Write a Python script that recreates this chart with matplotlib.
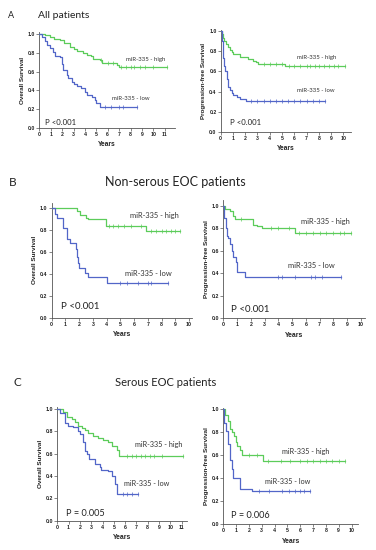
import matplotlib
matplotlib.use("Agg")
import matplotlib.pyplot as plt
import numpy as np

plt.rcParams['font.family'] = ['Liberation Sans', 'DejaVu Sans']

GREEN = '#5ccc5a'
BLUE = '#5266c8'

# ---------------- data ----------------
# Panel A – all patients, overall survival
A_os_high_t = [0, 0.5, 0.94, 1.3, 1.8, 2.2, 2.7, 3.0, 3.3, 3.8, 4.2, 4.5, 4.75, 5.3, 5.5, 6.8, 6.95]
A_os_high_s = [1, 0.99, 0.97, 0.95, 0.93, 0.90, 0.86, 0.84, 0.82, 0.80, 0.78, 0.76, 0.73, 0.72, 0.69, 0.67, 0.65]
A_os_high_end = 11.2
A_os_high_cens = [5.4, 6.0, 6.5, 7.2, 7.6, 8.0, 8.3, 8.8, 9.3, 10.0, 11.2]
A_os_low_t = [0, 0.2, 0.5, 0.65, 0.94, 1.2, 1.4, 1.8, 2.0, 2.1, 2.4, 2.55, 2.85, 3.0, 3.3, 3.7, 4.0, 4.2, 4.6, 4.9, 5.0, 5.3]
A_os_low_s = [1, 0.97, 0.92, 0.88, 0.85, 0.81, 0.76, 0.75, 0.68, 0.62, 0.56, 0.53, 0.49, 0.47, 0.45, 0.42, 0.38, 0.35, 0.33, 0.30, 0.27, 0.22]
A_os_low_end = 8.55
A_os_low_cens = [5.8, 6.3, 7.0, 7.3, 8.55]

# Panel A – all patients, progression-free survival
A_pfs_high_t = [0, 0.08, 0.22, 0.3, 0.4, 0.57, 0.76, 0.9, 1.03, 1.6, 2.25, 2.66, 2.9, 3.07, 5.25]
A_pfs_high_s = [1, 0.97, 0.93, 0.90, 0.87, 0.84, 0.81, 0.79, 0.77, 0.74, 0.72, 0.70, 0.69, 0.67, 0.65]
A_pfs_high_end = 10.1
A_pfs_high_cens = [3.5, 4.0, 4.5, 5.0, 5.6, 6.0, 6.5, 7.0, 7.3, 7.7, 8.0, 8.4, 8.8, 9.2, 9.6, 10.1]
A_pfs_low_t = [0, 0.08, 0.15, 0.22, 0.3, 0.38, 0.5, 0.62, 0.76, 0.9, 1.03, 1.3, 1.6, 2.1]
A_pfs_low_s = [1, 0.90, 0.81, 0.73, 0.65, 0.60, 0.52, 0.45, 0.42, 0.39, 0.37, 0.35, 0.33, 0.31]
A_pfs_low_end = 8.5
A_pfs_low_cens = [2.5, 3.0, 3.5, 4.0, 4.5, 5.0, 5.5, 6.0, 6.5, 7.0, 7.5, 8.0, 8.5]

# Panel B – non-serous EOC, overall survival
B_os_high_t = [0, 1.87, 2.07, 2.5, 2.68, 3.97, 6.86]
B_os_high_s = [1, 0.97, 0.94, 0.91, 0.90, 0.84, 0.79]
B_os_high_end = 9.37
B_os_high_cens = [4.2, 4.5, 4.8, 5.3, 5.8, 6.5, 7.2, 7.6, 8.0, 8.3, 8.7, 9.0, 9.37]
B_os_low_t = [0, 0.24, 0.41, 0.85, 1.1, 1.34, 1.78, 1.87, 1.95, 2.02, 2.43, 2.68, 4.0]
B_os_low_s = [1, 0.95, 0.91, 0.82, 0.72, 0.68, 0.63, 0.55, 0.50, 0.45, 0.41, 0.37, 0.32]
B_os_low_end = 8.5
B_os_low_cens = [5.0, 5.5, 6.3, 7.0, 7.2, 8.5]

# Panel B – non-serous EOC, progression-free survival
B_pfs_high_t = [0, 0.12, 0.49, 0.73, 0.85, 2.18, 2.43, 2.8, 5.2]
B_pfs_high_s = [1, 0.97, 0.95, 0.91, 0.88, 0.83, 0.82, 0.80, 0.76]
B_pfs_high_end = 9.3
B_pfs_high_cens = [1.3, 3.5, 4.0, 4.8, 5.5, 6.0, 6.5, 7.0, 7.5, 8.0, 8.5, 8.8, 9.3]
B_pfs_low_t = [0, 0.07, 0.17, 0.24, 0.36, 0.49, 0.6, 0.73, 0.9, 0.97, 1.58]
B_pfs_low_s = [1, 0.89, 0.80, 0.73, 0.71, 0.66, 0.60, 0.54, 0.50, 0.41, 0.37]
B_pfs_low_end = 8.57
B_pfs_low_cens = [4.0, 4.3, 5.2, 6.4, 6.7, 7.2, 8.57]

# Panel C – serous EOC, overall survival
C_os_high_t = [0, 0.53, 0.83, 1.27, 1.56, 1.86, 2.15, 2.45, 2.74, 3.2, 3.6, 4.07, 4.5, 4.8, 5.25, 5.5]
C_os_high_s = [1, 0.97, 0.93, 0.91, 0.88, 0.85, 0.83, 0.81, 0.78, 0.76, 0.74, 0.72, 0.70, 0.67, 0.63, 0.58]
C_os_high_end = 11.1
C_os_high_cens = [6.2, 6.6, 7.0, 7.4, 7.8, 8.2, 8.6, 9.3, 11.1]
C_os_low_t = [0, 0.24, 0.68, 0.97, 1.4, 1.86, 2.0, 2.3, 2.45, 2.6, 2.83, 3.33, 3.78, 3.9, 4.5, 4.8, 5.1, 5.25]
C_os_low_s = [1, 0.96, 0.87, 0.85, 0.84, 0.80, 0.77, 0.70, 0.62, 0.60, 0.55, 0.51, 0.48, 0.45, 0.44, 0.40, 0.33, 0.24]
C_os_low_end = 7.17
C_os_low_cens = [5.8, 6.2, 6.6, 7.17]

# Panel C – serous EOC, progression-free survival
C_pfs_high_t = [0, 0.13, 0.39, 0.52, 0.65, 0.86, 0.96, 1.04, 1.3, 1.43, 3.1]
C_pfs_high_s = [1, 0.95, 0.90, 0.83, 0.80, 0.77, 0.72, 0.68, 0.65, 0.60, 0.55]
C_pfs_high_end = 9.5
C_pfs_high_cens = [2.0, 2.6, 3.5, 4.5, 5.2, 6.0, 6.5, 7.0, 7.5, 8.0, 8.5, 9.0, 9.5]
C_pfs_low_t = [0, 0.08, 0.18, 0.34, 0.39, 0.52, 0.65, 0.78, 1.3, 2.2]
C_pfs_low_s = [1, 0.88, 0.81, 0.75, 0.70, 0.56, 0.48, 0.40, 0.31, 0.29]
C_pfs_low_end = 6.75
C_pfs_low_cens = [2.8, 3.6, 4.6, 5.1, 5.6, 6.0, 6.3, 6.75]

label_high = 'miR-335 - high'
label_low = 'miR-335 - low'
ylabel_os = 'Overall Survival'
ylabel_pfs = 'Progression-free Survival'
xlabel = 'Years'
y_ticks = [0.0, 0.2, 0.4, 0.6, 0.8, 1.0]

# ---------------- figure ----------------
W, H = 376, 550
fig = plt.figure(figsize=(W / 100, H / 100), dpi=100)


def ax_px(x0, x1, ybot, ytop):
    return fig.add_axes([x0 / W, 1 - ybot / H, (x1 - x0) / W, (ybot - ytop) / H])


def km(ax, t, s, end, cens, color):
    tt = list(t) + [end]
    ss = list(s) + [s[-1]]
    ax.step(tt, ss, where='post', color=color, lw=0.9, zorder=3)
    t_arr = np.array(t)
    cy = [s[np.searchsorted(t_arr, c, side='right') - 1] for c in cens]
    ax.plot(cens, cy, ls='none', marker='|', ms=2.2, mew=0.5, color=color, zorder=4)


def style(ax, xmax, xlim, ylim, ylab, fs_tick, fs_lab):
    ax.set_xlim(0, xlim)
    ax.set_ylim(0, ylim)
    ax.set_xticks(range(0, xmax + 1))
    ax.set_yticks(y_ticks)
    ax.set_yticklabels([f'{v:.1f}' for v in y_ticks])
    for sp in ['top', 'right']:
        ax.spines[sp].set_visible(False)
    for sp in ['left', 'bottom']:
        ax.spines[sp].set_color('#555555')
        ax.spines[sp].set_linewidth(0.6)
    ax.tick_params(axis='both', length=2, width=0.5, color='#555555',
                   labelsize=fs_tick, pad=1, labelcolor='#222222')
    for lab in ax.get_xticklabels() + ax.get_yticklabels():
        lab.set_fontweight('bold')
    ax.set_xlabel(xlabel, fontsize=fs_lab, fontweight='bold', labelpad=3, color='#222222')
    ax.set_ylabel(ylab, fontsize=fs_lab - 0.3, fontweight='bold', labelpad=2, color='#222222')


TXT = ['Lato', 'DejaVu Sans']

panels = [
    dict(box=(39.3, 175, 128, 32), xmax=11, xlim=11.9, ylim=1.02, ylab=ylabel_os,
         hi=(A_os_high_t, A_os_high_s, A_os_high_end, A_os_high_cens),
         lo=(A_os_low_t, A_os_low_s, A_os_low_end, A_os_low_cens),
         phi=(7.6, 0.73), plo=(6.4, 0.31), p='P <0.001', pp=(0.5, 0.06), fst=4.3, fsp=5.6, fstick=3.7, fslab=4.8),
    dict(box=(220.7, 350.7, 132, 30), xmax=10, xlim=10.6, ylim=1.01, ylab=ylabel_pfs,
         hi=(A_pfs_high_t, A_pfs_high_s, A_pfs_high_end, A_pfs_high_cens),
         lo=(A_pfs_low_t, A_pfs_low_s, A_pfs_low_end, A_pfs_low_cens),
         phi=(6.2, 0.74), plo=(6.2, 0.41), p='P <0.001', pp=(0.76, 0.095), fst=4.3, fsp=5.6, fstick=3.7, fslab=4.8),
    dict(box=(51.7, 191.7, 317.7, 202.7), xmax=10, xlim=10.2, ylim=1.05, ylab=ylabel_os,
         hi=(B_os_high_t, B_os_high_s, B_os_high_end, B_os_high_cens),
         lo=(B_os_low_t, B_os_low_s, B_os_low_end, B_os_low_cens),
         phi=(5.7, 0.93), plo=(5.35, 0.40), p='P <0.001', pp=(0.68, 0.10), fst=5.4, fsp=7.0, fstick=3.8, fslab=4.9),
    dict(box=(223.3, 365, 318.3, 200), xmax=10, xlim=10.3, ylim=1.05, ylab=ylabel_pfs,
         hi=(B_pfs_high_t, B_pfs_high_s, B_pfs_high_end, B_pfs_high_cens),
         lo=(B_pfs_low_t, B_pfs_low_s, B_pfs_low_end, B_pfs_low_cens),
         phi=(5.65, 0.86), plo=(4.7, 0.47), p='P <0.001', pp=(0.56, 0.08), fst=5.4, fsp=7.0, fstick=3.8, fslab=4.9),
    dict(box=(57.3, 186.7, 520.7, 406.7), xmax=11, xlim=11.45, ylim=1.018, ylab=ylabel_os,
         hi=(C_os_high_t, C_os_high_s, C_os_high_end, C_os_high_cens),
         lo=(C_os_low_t, C_os_low_s, C_os_low_end, C_os_low_cens),
         phi=(6.9, 0.68), plo=(5.9, 0.33), p='P = 0.005', pp=(0.74, 0.065), fst=5.2, fsp=6.6, fstick=3.8, fslab=4.9),
    dict(box=(223.3, 358, 524.3, 407.7), xmax=10, xlim=10.5, ylim=1.014, ylab=ylabel_pfs,
         hi=(C_pfs_high_t, C_pfs_high_s, C_pfs_high_end, C_pfs_high_cens),
         lo=(C_pfs_low_t, C_pfs_low_s, C_pfs_low_end, C_pfs_low_cens),
         phi=(4.6, 0.63), plo=(3.25, 0.37), p='P = 0.006', pp=(0.57, 0.08), fst=5.2, fsp=6.6, fstick=3.8, fslab=4.9),
]

for p in panels:
    ax = ax_px(*p['box'])
    km(ax, *p['hi'], GREEN)
    km(ax, *p['lo'], BLUE)
    style(ax, p['xmax'], p['xlim'], p['ylim'], p['ylab'], p['fstick'], p['fslab'])
    ax.text(p['phi'][0], p['phi'][1], label_high, fontsize=p['fst'], color='#333333',
            va='center', ha='left', family=TXT)
    ax.text(p['plo'][0], p['plo'][1], label_low, fontsize=p['fst'], color='#333333',
            va='center', ha='left', family=TXT)
    ax.text(p['pp'][0], p['pp'][1], p['p'], fontsize=p['fsp'], color='#222222',
            va='center', ha='left', family=TXT)

# panel letters & titles
fig.text(8 / W, 1 - 15 / H, 'A', fontsize=6.5, va='center', ha='left', family=TXT, color='#222222')
fig.text(38 / W, 1 - 15.5 / H, 'All patients', fontsize=7.5, va='center', ha='left', family=TXT, color='#222222')
fig.text(9 / W, 1 - 182 / H, 'B', fontsize=8.5, va='center', ha='left', family=TXT, color='#222222')
fig.text(105 / W, 1 - 182 / H, 'Non-serous EOC patients', fontsize=9, va='center', ha='left', family=TXT, color='#222222')
fig.text(14 / W, 1 - 382 / H, 'C', fontsize=8.5, va='center', ha='left', family=TXT, color='#222222')
fig.text(115 / W, 1 - 383 / H, 'Serous EOC patients', fontsize=8, va='center', ha='left', family=TXT, color='#222222')

fig.savefig('out.png', dpi=100)
